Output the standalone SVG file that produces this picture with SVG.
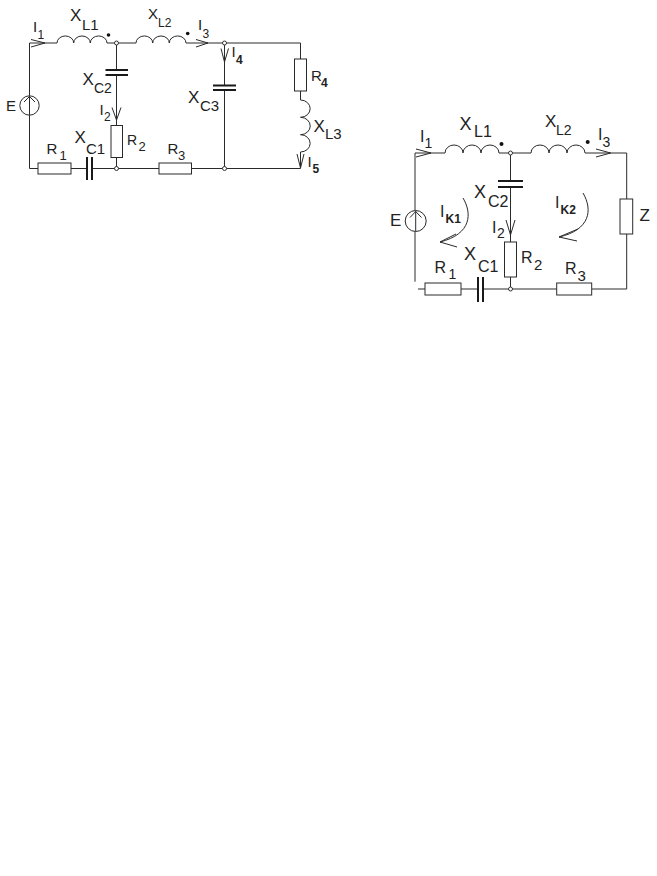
<svg xmlns="http://www.w3.org/2000/svg" width="657" height="876" viewBox="0 0 657 876">
<style>
.w{fill:none;stroke:#2a2a2a;stroke-width:1}
.b{fill:#fff;stroke:#2a2a2a;stroke-width:1}
.p{fill:none;stroke:#1a1a1a;stroke-width:2}
.n{fill:#fff;stroke:#333;stroke-width:1}
.d{fill:#111;stroke:none}
text{font-family:"Liberation Sans",Arial,sans-serif;fill:#222;font-size:14px}
.i{font-size:15px}
.s{font-size:12px}
.x{font-size:17px}
.m{font-size:15px}
.k{font-size:12px;font-weight:bold}
</style>
<rect width="657" height="876" fill="#fff"/>
<g id="connectors">
<path class="w" d="M57 43H29.5V168.5H38M71 168.5H87M92 168.5H159M191.500 168.500H300.500M107 43H136M186 43H300.500V59M300.500 91V100M300.500 152V168.500M116.500 43V70M116.500 75V125.500M116.500 157.500V168.500M224.500 43V85.500M224.500 90V168.500"/>
<path class="w" d="M45 43L31 39.500M45 43L31 47M208 43L196 39.500M208 43L196 47M224.500 62L221 48.500M224.500 62L228.500 48.500M116.500 120L112 107.500M116.500 120L121 107.500M300.500 168L297 154M300.500 168L304 154"/>
<path class="w" d="M445 153H415V281.700M418 289H425M461 289H478M483 289H556.700M591.700 289H626.700V234M626.700 199V153H585M499 153H531M510.500 153V181M510.500 187V242M510.500 277V289"/>
<path class="w" d="M431 153L416 149M431 153L416 157M610.700 153L596 149M610.700 153L596 157M510.500 235L506 220M510.500 235L515 220"/>
<path class="w" d="M463 198C472 213 472 234 440 242M440 242L456 234M440 242L457 247"/>
<path class="w" d="M583 193C593 210 590 230 559 237M559 237L578 229M559 237L577 241"/>
</g>
<g id="left-circuit">
<g id="E1"><circle class="b" cx="29.500" cy="105.500" r="9.700"/><path class="w" d="M29.500 115V96M24 102L29.500 96.500L35 102"/><text x="6" y="110.500" class="m">E</text></g>
<g id="XL1"><path class="w" d="M57 43A8.300 7 0 0 1 73.700 43A8.300 7 0 0 1 90.300 43A8.300 7 0 0 1 107 43"/><circle class="d" cx="108.500" cy="35" r="1.800"/><text class="x" x="70" y="21">X</text><text x="82" y="30" class="m">L1</text></g>
<g id="XL2"><path class="w" d="M136 43A8.300 7 0 0 1 152.700 43A8.300 7 0 0 1 169.300 43A8.300 7 0 0 1 186 43"/><circle class="d" cx="187.700" cy="33.500" r="1.800"/><text x="148" y="19" class="m">X</text><text class="s" x="158" y="26.500">L2</text></g>
<g id="XC2"><path class="p" d="M105.500 70H128M105.500 75H128"/><text class="x" x="82.500" y="85">X</text><text x="94" y="93">C2</text></g>
<g id="R2"><rect class="b" x="111" y="125.500" width="11.500" height="32"/><text x="127" y="145">R</text><text x="138.500" y="151" style="font-size:13px">2</text></g>
<g id="R1"><rect class="b" x="38" y="163" width="33" height="11"/><text x="46.500" y="154" class="m">R</text><text x="59.500" y="159.500" style="font-size:13px">1</text></g>
<g id="XC1"><path class="p" d="M87 157V180M92 157V180"/><text class="x" x="74.500" y="143">X</text><text x="86" y="154" class="m">C1</text></g>
<g id="R3"><rect class="b" x="159" y="163" width="32.500" height="11"/><text x="167.500" y="154" class="m">R</text><text x="178" y="160" style="font-size:13px">3</text></g>
<g id="XC3"><path class="p" d="M213 85.500H236M213 90H236"/><text class="x" x="188" y="103">X</text><text x="200" y="111" class="m">C3</text></g>
<g id="R4"><rect class="b" x="294.500" y="59" width="12" height="32"/><text x="311" y="81" class="m">R</text><text class="k" x="321" y="87">4</text></g>
<g id="XL3"><path class="w" d="M300.500 100A9.500 8.500 0 0 1 300.500 117.300A9.500 8.500 0 0 1 300.500 134.700A9.500 8.500 0 0 1 300.500 152"/><text class="x" x="313.500" y="132">X</text><text x="325" y="139" class="m">L3</text></g>
<g id="N1"><circle class="n" cx="116.500" cy="43" r="2"/></g>
<g id="N2"><circle class="n" cx="116.500" cy="168.500" r="2"/></g>
<g id="N3"><circle class="n" cx="224.500" cy="43" r="2"/></g>
<g id="N4"><circle class="n" cx="224.500" cy="168.500" r="2"/></g>
<g id="currents-left">
<text x="33" y="32" class="i">I</text><text class="s" x="37.500" y="38.500">1</text>
<text x="99.500" y="115" class="i">I</text><text class="s" x="104" y="120.500">2</text>
<text x="198" y="30" class="i">I</text><text class="s" x="202.500" y="37.500">3</text>
<text x="231.500" y="57" class="i">I</text><text class="k" x="236" y="64">4</text>
<text x="307.500" y="167" class="i">I</text><text class="k" x="312.500" y="173">5</text>
</g>
</g>
<g id="right-circuit">
<g id="E2"><circle class="b" cx="415.700" cy="221" r="10.500"/><path class="w" d="M415.700 231V211M410 217.500L415.700 211.500L421.500 217.500"/><text x="390" y="225.500" style="font-size:17px">E</text></g>
<g id="XL1b"><path class="w" d="M445 153A9 8 0 0 1 463 153A9 8 0 0 1 481 153A9 8 0 0 1 499 153"/><circle class="d" cx="501.500" cy="144" r="2"/><text x="459.500" y="129.500" style="font-size:18px">X</text><text x="474" y="137" style="font-size:16px">L1</text></g>
<g id="XL2b"><path class="w" d="M531 153A9 8 0 0 1 549 153A9 8 0 0 1 567 153A9 8 0 0 1 585 153"/><circle class="d" cx="587.700" cy="142" r="2"/><text x="545" y="127" class="x">X</text><text x="556" y="134.500" style="font-size:14px">L2</text></g>
<g id="XC2b"><path class="p" d="M498 181H523M498 187H523"/><text x="474" y="198" style="font-size:18px">X</text><text x="488" y="206.500" style="font-size:16px">C2</text></g>
<g id="R2b"><rect class="b" x="504.500" y="242" width="12" height="35"/><text x="521" y="263" style="font-size:16px">R</text><text x="534" y="270" style="font-size:15px">2</text></g>
<g id="R1b"><rect class="b" x="425" y="283" width="36" height="12"/><text x="434.500" y="272.500" style="font-size:16px">R</text><text x="448.500" y="278.500" style="font-size:14px">1</text></g>
<g id="XC1b"><path class="p" d="M478 277V302M483 277V302"/><text x="464" y="260" style="font-size:18px">X</text><text x="478" y="272" style="font-size:16px">C1</text></g>
<g id="R3b"><rect class="b" x="556.700" y="283" width="35" height="12"/><text x="565" y="274" style="font-size:16px">R</text><text x="577.500" y="281" style="font-size:15px">3</text></g>
<g id="Z"><rect class="b" x="620" y="199" width="12.700" height="35"/><text x="639.500" y="220.500" style="font-size:17px">Z</text></g>
<g id="N5"><circle class="n" cx="510.500" cy="153" r="2"/></g>
<g id="N6"><circle class="n" cx="510.500" cy="289" r="2"/></g>
<g id="currents-right">
<text x="420" y="141.500" style="font-size:16px">I</text><text x="424.500" y="147.500" style="font-size:14px">1</text>
<text x="492" y="233" style="font-size:16px">I</text><text x="497" y="237.500" style="font-size:14px">2</text>
<text x="598" y="140" style="font-size:16px">I</text><text x="602.500" y="146.500" style="font-size:14px">3</text>
<text x="440" y="217" style="font-size:16px">I</text><text class="k" x="445.500" y="223">K1</text>
<text x="555" y="208" style="font-size:16px">I</text><text class="k" x="560.500" y="214">K2</text>
</g>
</g>
</svg>
